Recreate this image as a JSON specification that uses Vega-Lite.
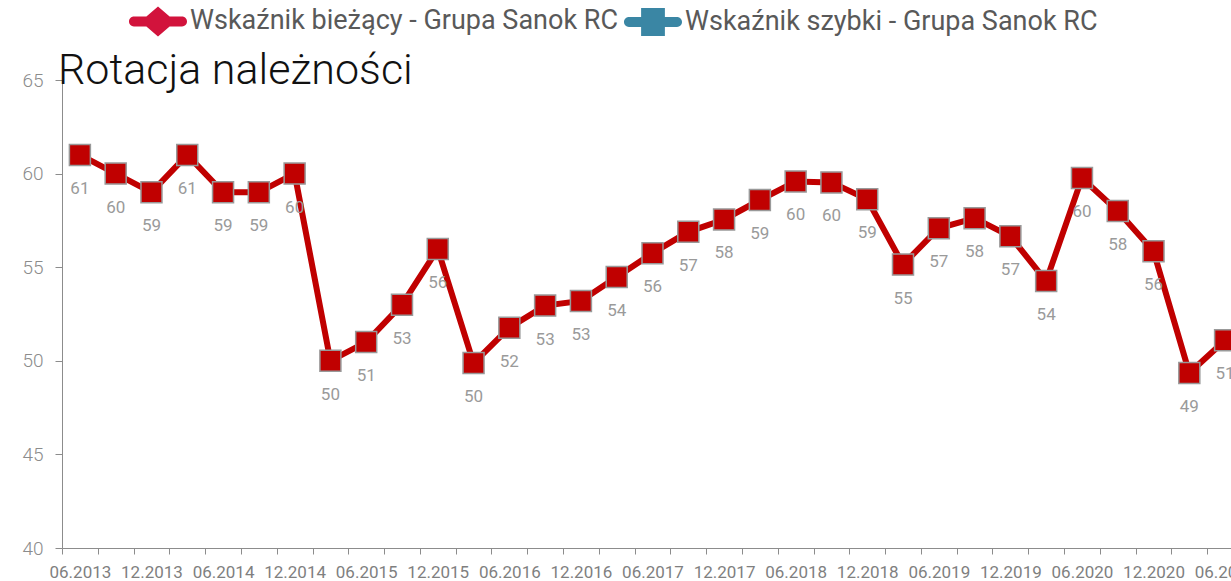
{
  "$schema": "https://vega.github.io/schema/vega-lite/v6.json",
  "autosize": "none",
  "padding": {"left": 62, "top": 80, "right": 0, "bottom": 33},
  "width": 1181,
  "height": 468,
  "background": "white",
  "title": {
    "text": "Rotacja należności",
    "anchor": "start",
    "frame": "group",
    "orient": "top",
    "baseline": "alphabetic",
    "offset": -135,
    "dx": -4,
    "font": "Roboto",
    "fontWeight": 300,
    "fontSize": 43,
    "color": "#111111"
  },
  "config": {
    "view": {"stroke": null},
    "font": "Roboto"
  },
  "data": {
    "values": [
      {"q": "06.2013", "v": 61.0, "s": "Wskaźnik bieżący - Grupa Sanok RC"},
      {"q": "09.2013", "v": 60.0, "s": "Wskaźnik bieżący - Grupa Sanok RC"},
      {"q": "12.2013", "v": 59.0, "s": "Wskaźnik bieżący - Grupa Sanok RC"},
      {"q": "03.2014", "v": 61.0, "s": "Wskaźnik bieżący - Grupa Sanok RC"},
      {"q": "06.2014", "v": 59.0, "s": "Wskaźnik bieżący - Grupa Sanok RC"},
      {"q": "09.2014", "v": 59.0, "s": "Wskaźnik bieżący - Grupa Sanok RC"},
      {"q": "12.2014", "v": 60.0, "s": "Wskaźnik bieżący - Grupa Sanok RC"},
      {"q": "03.2015", "v": 50.0, "s": "Wskaźnik bieżący - Grupa Sanok RC"},
      {"q": "06.2015", "v": 51.0, "s": "Wskaźnik bieżący - Grupa Sanok RC"},
      {"q": "09.2015", "v": 53.0, "s": "Wskaźnik bieżący - Grupa Sanok RC"},
      {"q": "12.2015", "v": 55.97, "s": "Wskaźnik bieżący - Grupa Sanok RC"},
      {"q": "03.2016", "v": 49.88, "s": "Wskaźnik bieżący - Grupa Sanok RC"},
      {"q": "06.2016", "v": 51.77, "s": "Wskaźnik bieżący - Grupa Sanok RC"},
      {"q": "09.2016", "v": 52.95, "s": "Wskaźnik bieżący - Grupa Sanok RC"},
      {"q": "12.2016", "v": 53.2, "s": "Wskaźnik bieżący - Grupa Sanok RC"},
      {"q": "03.2017", "v": 54.48, "s": "Wskaźnik bieżący - Grupa Sanok RC"},
      {"q": "06.2017", "v": 55.75, "s": "Wskaźnik bieżący - Grupa Sanok RC"},
      {"q": "09.2017", "v": 56.89, "s": "Wskaźnik bieżący - Grupa Sanok RC"},
      {"q": "12.2017", "v": 57.55, "s": "Wskaźnik bieżący - Grupa Sanok RC"},
      {"q": "03.2018", "v": 58.59, "s": "Wskaźnik bieżący - Grupa Sanok RC"},
      {"q": "06.2018", "v": 59.58, "s": "Wskaźnik bieżący - Grupa Sanok RC"},
      {"q": "09.2018", "v": 59.53, "s": "Wskaźnik bieżący - Grupa Sanok RC"},
      {"q": "12.2018", "v": 58.63, "s": "Wskaźnik bieżący - Grupa Sanok RC"},
      {"q": "03.2019", "v": 55.14, "s": "Wskaźnik bieżący - Grupa Sanok RC"},
      {"q": "06.2019", "v": 57.08, "s": "Wskaźnik bieżący - Grupa Sanok RC"},
      {"q": "09.2019", "v": 57.62, "s": "Wskaźnik bieżący - Grupa Sanok RC"},
      {"q": "12.2019", "v": 56.65, "s": "Wskaźnik bieżący - Grupa Sanok RC"},
      {"q": "03.2020", "v": 54.26, "s": "Wskaźnik bieżący - Grupa Sanok RC"},
      {"q": "06.2020", "v": 59.76, "s": "Wskaźnik bieżący - Grupa Sanok RC"},
      {"q": "09.2020", "v": 58.0, "s": "Wskaźnik bieżący - Grupa Sanok RC"},
      {"q": "12.2020", "v": 55.85, "s": "Wskaźnik bieżący - Grupa Sanok RC"},
      {"q": "03.2021", "v": 49.35, "s": "Wskaźnik bieżący - Grupa Sanok RC"},
      {"q": "06.2021", "v": 51.1, "s": "Wskaźnik bieżący - Grupa Sanok RC"}
    ]
  },
  "encoding": {
    "x": {
      "field": "q",
      "type": "ordinal",
      "sort": null,
      "scale": {"type": "band", "paddingInner": 0, "paddingOuter": 0},
      "axis": {
        "title": null,
        "labelAngle": 0,
        "labelOverlap": false,
        "labelExpr": "indexof(['06', '12'], slice(datum.label + '', 0, 2)) >= 0 ? datum.label : ''",
        "tickBand": "extent",
        "tickSize": 6,
        "tickColor": "#8c8c8c",
        "domainColor": "#8c8c8c",
        "labelColor": "#7f7f7f",
        "labelFont": "Roboto",
        "labelFontSize": 17,
        "labelPadding": 10,
        "grid": false
      }
    },
    "y": {
      "field": "v",
      "type": "quantitative",
      "scale": {"domain": [40, 65], "nice": false, "zero": false},
      "axis": {
        "title": null,
        "values": [40, 45, 50, 55, 60, 65],
        "grid": false,
        "tickSize": 7,
        "tickColor": "#8c8c8c",
        "domainColor": "#8c8c8c",
        "labelColor": "#8c8c8c",
        "labelFont": "Roboto",
        "labelFontWeight": 300,
        "labelFontSize": 19,
        "labelPadding": 12
      }
    }
  },
  "layer": [
    {
      "mark": {"type": "line", "color": "#c00000", "strokeWidth": 6},
      "encoding": {}
    },
    {
      "mark": {"type": "point", "shape": "square", "filled": true, "size": 441, "fill": "#c00000", "stroke": "#999999", "strokeWidth": 1.5, "opacity": 1},
      "encoding": {}
    },
    {
      "mark": {"type": "text", "dy": 34, "baseline": "middle", "align": "center", "color": "#9a9a9a", "font": "Roboto", "fontSize": 17},
      "encoding": {
        "text": {"field": "v", "type": "quantitative", "format": ".0f"}
      }
    },
    {
      "mark": {"type": "point", "filled": true, "opacity": 0},
      "encoding": {
        "color": {
          "field": "s",
          "type": "nominal",
          "scale": {
            "domain": ["Wskaźnik bieżący - Grupa Sanok RC", "Wskaźnik szybki - Grupa Sanok RC"],
            "range": ["#d2133c", "#3a86a4"]
          },
          "legend": {
            "title": null,
            "orient": "none",
            "direction": "horizontal",
            "legendX": 67,
            "legendY": -88,
            "padding": 0,
            "symbolSize": 3364,
            "symbolStrokeWidth": 0,
            "symbolOpacity": 1,
            "labelFont": "Roboto",
            "labelFontSize": 27,
            "labelColor": "#595959",
            "labelOffset": 3,
            "labelLimit": 1000,
            "columnPadding": 6,
            "encode": {
              "symbols": {
                "update": {
                  "shape": {"signal": "datum.value === 'Wskaźnik bieżący - Grupa Sanok RC' ? 'M-0.83,-0.17H0.83A0.17,0.17 0 0 1 0.83,0.17H-0.83A0.17,0.17 0 0 1 -0.83,-0.17Z M0,-0.52L0.6,0L0,0.52L-0.6,0Z' : 'M-0.83,-0.17H0.83A0.17,0.17 0 0 1 0.83,0.17H-0.83A0.17,0.17 0 0 1 -0.83,-0.17Z M-0.41,-0.48H0.41V0.48H-0.41Z'"},
                  "opacity": {"value": 1},
                  "fillOpacity": {"value": 1},
                  "strokeWidth": {"value": 0}
                }
              }
            }
          }
        }
      }
    }
  ]
}
